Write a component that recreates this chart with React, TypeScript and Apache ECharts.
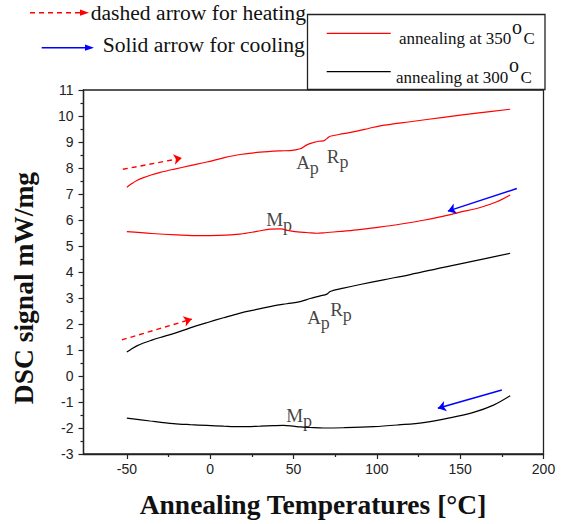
import { useEffect, useRef } from "react";
import * as echarts from "echarts";

// ---- data ----
const xTicks = [-50, 0, 50, 100, 150, 200];
const xMinorTicks = [-25, 25, 75, 125, 175];

const heat350X = [-50, -47, -44, -40, -35, -30, -22, -12, -2, 8, 18, 30, 42, 48, 54, 58, 62, 65, 68, 70, 72, 80, 88, 95, 102, 120, 140, 160, 180];
const heat350Y = [7.26, 7.4, 7.52, 7.63, 7.74, 7.83, 7.95, 8.09, 8.23, 8.39, 8.52, 8.61, 8.66, 8.67, 8.74, 8.89, 8.98, 9.03, 9.04, 9.13, 9.22, 9.32, 9.42, 9.52, 9.62, 9.78, 9.95, 10.11, 10.26];

const cool350X = [-50, -35, -20, -6, 5, 18, 28, 36, 42, 48, 54, 58, 64, 70, 78, 88, 98, 108, 118, 128, 138, 150, 162, 172, 180];
const cool350Y = [5.55, 5.48, 5.43, 5.4, 5.41, 5.46, 5.56, 5.65, 5.66, 5.58, 5.53, 5.52, 5.49, 5.52, 5.56, 5.62, 5.7, 5.78, 5.88, 5.99, 6.12, 6.3, 6.48, 6.7, 6.96];

const heat300X = [-50, -47, -44, -40, -35, -30, -22, -12, -2, 8, 18, 28, 38, 46, 54, 60, 66, 70, 72, 80, 90, 104, 120, 140, 160, 180];
const heat300Y = [0.92, 1.05, 1.16, 1.27, 1.38, 1.48, 1.63, 1.85, 2.05, 2.24, 2.42, 2.56, 2.7, 2.78, 2.86, 2.98, 3.08, 3.15, 3.25, 3.38, 3.52, 3.7, 3.9, 4.18, 4.45, 4.72];

const cool300X = [-50, -36, -22, -12, -2, 8, 18, 30, 38, 44, 50, 54, 60, 68, 80, 98, 113, 128, 143, 158, 170, 180];
const cool300Y = [-1.62, -1.73, -1.83, -1.87, -1.9, -1.93, -1.95, -1.93, -1.91, -1.9, -1.93, -1.96, -1.98, -2.0, -1.99, -1.95, -1.88, -1.79, -1.62, -1.4, -1.12, -0.76];

// arrows: [start, end] in data units
const heatArrow350 = [[-52.4, 7.95], [-17, 8.38]];
const heatArrow300 = [[-53, 1.39], [-11, 2.19]];
const coolArrow350 = [[184, 7.21], [142.6, 6.34]];
const coolArrow300 = [[175, -0.54], [136.6, -1.24]];

// peak labels
const peakNames = ["A", "R", "M", "A", "R", "M"];
const peakX = [58.4, 76.5, 41.4, 65, 78.5, 53.4];
const peakY = [8.2, 8.45, 6.02, 2.26, 2.54, -1.5];

const legendNames = ["annealing at 350", "annealing at 300"];

const SERIF = "'Liberation Serif', 'Times New Roman', serif";
const SANS = "'Liberation Sans', Arial, sans-serif";
const RED = "#ff0000";
const BLUE = "#0000ff";
const AXIS = "#222";

function pairs(xs: number[], ys: number[]) {
  return xs.map((x, i) => [x, ys[i]]);
}

function arrowLine(a: number[][], color: string, dashed: boolean) {
  return {
    silent: true,
    symbol: ["none", "arrow"],
    symbolSize: 8,
    label: { show: false },
    lineStyle: { color, width: 1.4, type: dashed ? [5, 4] : "solid" },
    emphasis: { disabled: true },
    data: [[{ coord: a[0] }, { coord: a[1] }]],
  };
}

function txt(text: string, x: number, y: number, size: number, extra: any = {}) {
  return {
    type: "text",
    x,
    y,
    silent: true,
    ...extra,
    style: {
      text,
      fontFamily: SERIF,
      fontSize: size,
      fill: "#111",
      align: extra.align || "left",
      textAlign: extra.align || "left",
      verticalAlign: "middle",
      textVerticalAlign: "middle",
      fontWeight: extra.fontWeight || "normal",
    },
  };
}

export default function App() {
  const ref = useRef<HTMLDivElement>(null);
  useEffect(() => {
    if (!ref.current) return;
    const chart = echarts.init(ref.current, undefined, { renderer: "svg" });
    const lineBase = { type: "line", symbol: "none", showSymbol: false, smooth: 0.35, silent: true };
    const option: any = {
      animation: false,
      backgroundColor: "#fff",
      grid: { left: 83.5, right: 17.5, top: 90, bottom: 70, show: true, borderColor: AXIS, borderWidth: 1.3, backgroundColor: "transparent" },
      xAxis: [
        {
          type: "value",
          min: -76,
          max: 200,
          axisLine: { onZero: false, lineStyle: { color: AXIS, width: 1.3 } },
          axisTick: { customValues: xTicks, length: 5, lineStyle: { color: AXIS, width: 1.2 } },
          axisLabel: { customValues: xTicks, fontFamily: SANS, fontSize: 14, color: "#222", margin: 8 },
          splitLine: { show: false },
        },
        {
          type: "value",
          min: -76,
          max: 200,
          position: "bottom",
          axisLine: { show: false, onZero: false },
          axisTick: { customValues: xMinorTicks, length: 3, lineStyle: { color: AXIS, width: 1.2 } },
          axisLabel: { show: false },
          splitLine: { show: false },
        },
      ],
      yAxis: {
        type: "value",
        min: -3,
        max: 11,
        interval: 1,
        axisLine: { show: true, onZero: false, lineStyle: { color: AXIS, width: 1.3 } },
        axisTick: { show: true, length: 5, lineStyle: { color: AXIS, width: 1.2 } },
        minorTick: { show: true, splitNumber: 2, length: 3, lineStyle: { color: AXIS, width: 1.2 } },
        axisLabel: { fontFamily: SANS, fontSize: 14, color: "#222", margin: 10 },
        splitLine: { show: false },
      },
      series: [
        { ...lineBase, name: "heat350", data: pairs(heat350X, heat350Y), lineStyle: { color: RED, width: 1.2 }, markLine: arrowLine(heatArrow350, RED, true) },
        { ...lineBase, name: "cool350", data: pairs(cool350X, cool350Y), lineStyle: { color: RED, width: 1.2 }, markLine: arrowLine(coolArrow350, BLUE, false) },
        { ...lineBase, name: "heat300", data: pairs(heat300X, heat300Y), lineStyle: { color: "#000", width: 1.2 }, markLine: arrowLine(heatArrow300, RED, true) },
        { ...lineBase, name: "cool300", data: pairs(cool300X, cool300Y), lineStyle: { color: "#000", width: 1.2 }, markLine: arrowLine(coolArrow300, BLUE, false) },
        {
          type: "scatter",
          silent: true,
          symbol: "circle",
          symbolSize: 1,
          itemStyle: { color: "rgba(0,0,0,0)" },
          data: peakNames.map((n, i) => ({ value: [peakX[i], peakY[i]], name: n })),
          label: {
            show: true,
            position: "inside",
            formatter: (p: any) => `{b|${p.name}}{s|p}`,
            rich: {
              b: { fontFamily: SERIF, fontSize: 19, color: "#111" },
              s: { fontFamily: SERIF, fontSize: 18, color: "#111", padding: [11, 0, 0, 0] },
            },
          },
        },
      ],
      graphic: [
        // heating/cooling key
        { type: "line", silent: true, shape: { x1: 30, y1: 12.7, x2: 82, y2: 12.7 }, style: { stroke: RED, lineWidth: 1.4, lineDash: [5, 4] } },
        { type: "polygon", silent: true, shape: { points: [[80, 9.6], [89, 12.7], [80, 15.8]] }, style: { fill: RED } },
        txt("dashed arrow for heating", 90.7, 12.7, 21.6),
        { type: "line", silent: true, shape: { x1: 41.7, y1: 47.7, x2: 86, y2: 47.7 }, style: { stroke: BLUE, lineWidth: 1.4 } },
        { type: "polygon", silent: true, shape: { points: [[85, 44.6], [94, 47.7], [85, 50.8]] }, style: { fill: BLUE } },
        txt("Solid arrow for cooling", 102.7, 45.4, 21.6),
        // series legend box
        { type: "rect", silent: true, shape: { x: 307.5, y: 14.5, width: 237.5, height: 75 }, style: { fill: "#fff", stroke: AXIS, lineWidth: 1.3 } },
        { type: "line", silent: true, shape: { x1: 326.7, y1: 33.3, x2: 390.7, y2: 33.3 }, style: { stroke: RED, lineWidth: 1.2 } },
        { type: "line", silent: true, shape: { x1: 326.7, y1: 71.7, x2: 390.7, y2: 71.7 }, style: { stroke: "#000", lineWidth: 1.2 } },
        txt(legendNames[0], 399, 38.6, 17),
        txt("o", 512, 26.5, 20),
        txt("C", 523.5, 38.6, 17),
        txt(legendNames[1], 396, 77, 17),
        txt("o", 509, 65, 20),
        txt("C", 520.5, 77, 17),
        // axis titles
        txt("Annealing Temperatures [°C]", 313, 504, 27.5, { align: "center", fontWeight: "bold" }),
        txt("DSC signal mW/mg", 23, 288, 27.5, { align: "center", fontWeight: "bold", rotation: Math.PI / 2 }),
      ],
    };
    chart.setOption(option);
    return () => chart.dispose();
  }, []);
  return <div ref={ref} style={{ position: "fixed", left: 0, top: 0, width: 561, height: 524, background: "#fff" }} />;
}
